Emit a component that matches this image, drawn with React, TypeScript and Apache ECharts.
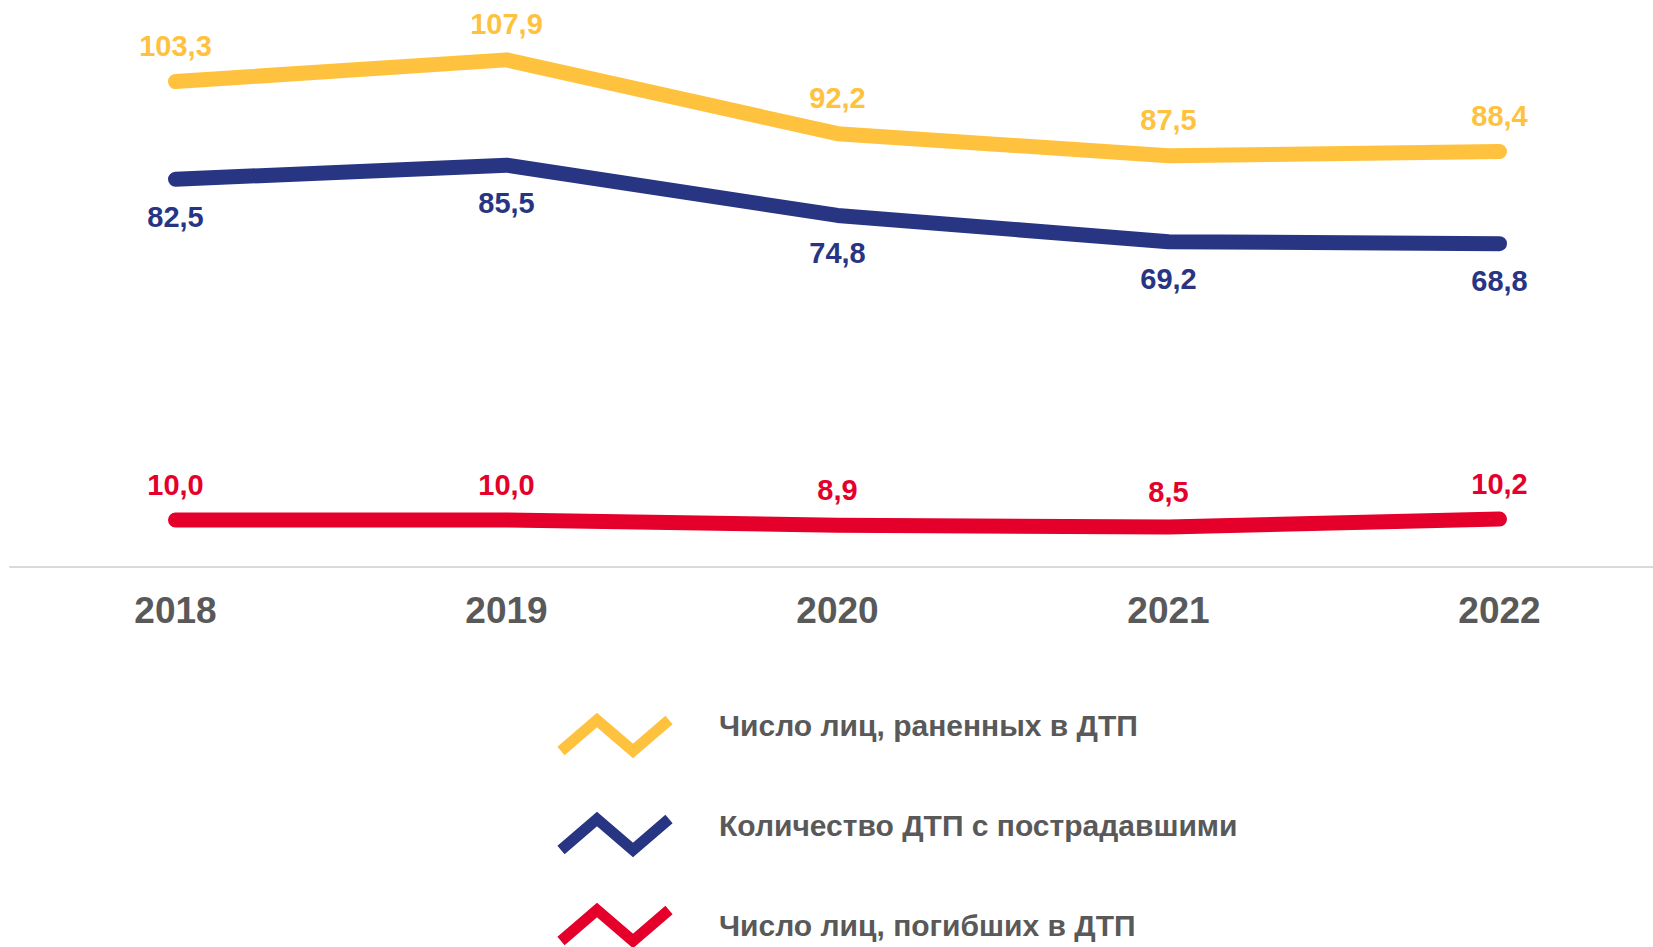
import React, { useEffect, useRef } from "react";
import * as echarts from "echarts";

const years = ["2018", "2019", "2020", "2021", "2022"];
const injured = [103.3, 107.9, 92.2, 87.5, 88.4];
const accidents = [82.5, 85.5, 74.8, 69.2, 68.8];
const killed = [10.0, 10.0, 8.9, 8.5, 10.2];
const seriesNames = [
  "Число лиц, раненных в ДТП",
  "Количество ДТП с пострадавшими",
  "Число лиц, погибших в ДТП",
];
const colors = ["#FFC23E", "#283583", "#E4002B"];

const FONT = "'Liberation Sans', Arial, Helvetica, sans-serif";
const fmt = (v: number) => v.toFixed(1).replace(".", ",");

export default function App() {
  const ref = useRef<HTMLDivElement>(null);
  useEffect(() => {
    document.body.style.margin = "0";
    document.body.style.overflow = "hidden";
    if (!ref.current) return;
    const chart = echarts.init(ref.current, undefined, { renderer: "svg" });

    const mkSeries = (name: string, data: number[], color: string, pos: string, dist: number) => ({
      name,
      type: "line",
      data,
      symbol: "circle",
      symbolSize: 2,
      itemStyle: { color },
      lineStyle: { color, width: 15, cap: "round", join: "round" },
      label: {
        show: true,
        position: pos,
        distance: dist,
        color,
        fontSize: 29,
        fontWeight: "bold",
        fontFamily: FONT,
        formatter: (p: any) => fmt(p.value),
      },
      z: 3,
    });

    const legendRows = [
      { top: 720, bottom: 751, textY: 725 },
      { top: 819, bottom: 850, textY: 825 },
      { top: 910, bottom: 941, textY: 925 },
    ];
    const graphic: any[] = [];
    legendRows.forEach((r, i) => {
      graphic.push({
        type: "polyline",
        shape: {
          points: [
            [561, r.bottom],
            [597, r.top],
            [633, r.bottom],
            [669, r.top],
          ],
        },
        style: { stroke: colors[i], lineWidth: 11, fill: null, lineJoin: "miter", lineCap: "butt" },
      });
      graphic.push({
        type: "text",
        x: 719,
        y: r.textY,
        style: {
          text: seriesNames[i],
          fill: "#595959",
          font: `bold 30px ${FONT}`,
          verticalAlign: "middle",
          align: "left",
        },
      });
    });

    chart.setOption({
      animation: false,
      backgroundColor: "#ffffff",
      grid: { left: 10, top: 3, width: 1655, height: 564 },
      xAxis: {
        type: "category",
        data: years,
        boundaryGap: true,
        axisLine: { show: true, lineStyle: { color: "#D9D9D9", width: 2 } },
        axisTick: { show: false },
        axisLabel: {
          color: "#595959",
          fontSize: 37,
          fontWeight: "bold",
          fontFamily: FONT,
          margin: 25,
        },
      },
      yAxis: {
        type: "value",
        min: 0,
        max: 120,
        show: false,
        splitLine: { show: false },
      },
      series: [
        mkSeries(seriesNames[0], injured, colors[0], "top", 20),
        mkSeries(seriesNames[1], accidents, colors[1], "bottom", 22),
        mkSeries(seriesNames[2], killed, colors[2], "top", 20),
      ],
      graphic,
    });
    return () => chart.dispose();
  }, []);
  return <div ref={ref} style={{ width: 1666, height: 947 }} />;
}
